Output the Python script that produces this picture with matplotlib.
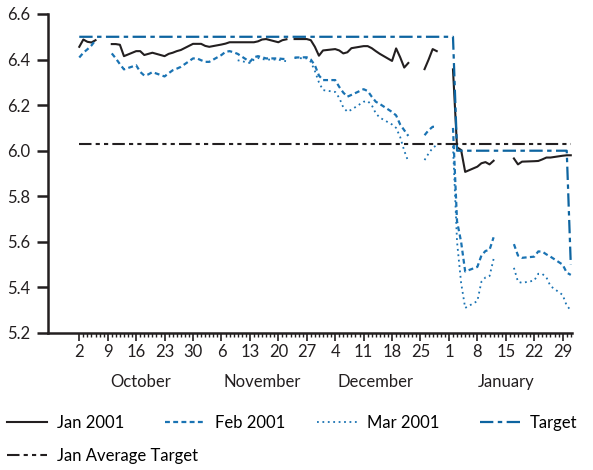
import numpy as np
import pandas as pd
import matplotlib
matplotlib.use('Agg')
import matplotlib.pyplot as plt
import matplotlib.dates as mdates
from matplotlib.lines import Line2D

nan = np.nan

# trading days Oct 2 2000 - Jan 31 2001 (holidays / missing quotes = NaN)
days = pd.bdate_range('2000-10-02', '2001-01-31')

jan_2001 = [
    6.456, 6.488, 6.478, 6.475, 6.485,   # Oct 2-6
    nan, 6.468, 6.468, 6.465, 6.415,     # Oct 9-13
    6.437, 6.437, 6.420, 6.425, 6.430,   # Oct 16-20
    6.415, 6.425, 6.430, 6.437, 6.442,   # Oct 23-27
    6.469, 6.469, 6.469, 6.460, 6.456,   # Oct 30-Nov 3
    6.466, 6.470, 6.476, 6.476, 6.476,   # Nov 6-10
    6.476, 6.476, 6.480, 6.488, 6.490,   # Nov 13-17
    6.476, 6.485, 6.489, nan, 6.490,     # Nov 20-24
    6.490, 6.485, 6.456, 6.417, 6.440,   # Nov 27-Dec 1
    6.446, 6.440, 6.427, 6.432, 6.450,   # Dec 4-8
    6.459, 6.459, 6.450, 6.437, 6.425,   # Dec 11-15
    6.394, 6.449, 6.410, 6.365, 6.385,   # Dec 18-22
    nan, 6.358, 6.400, 6.446, 6.437,     # Dec 25-29
    nan, 6.357, 6.015, 6.003, 5.907,     # Jan 1-5
    5.930, 5.945, 5.950, 5.940, 5.956,   # Jan 8-12
    nan, nan, 5.966, 5.940, 5.952,       # Jan 15-19
    5.954, 5.955, 5.962, 5.970, 5.970,   # Jan 22-26
    5.978, 5.980, 5.980,                 # Jan 29-31
]

feb_2001 = [
    6.409, 6.430, 6.445, 6.462, 6.485,
    nan, 6.427, 6.405, 6.380, 6.357,
    6.375, 6.346, 6.330, 6.335, 6.345,
    6.326, 6.340, 6.353, 6.360, 6.368,
    6.405, 6.405, 6.397, 6.390, 6.390,
    6.420, 6.434, 6.437, 6.432, 6.425,
    6.390, 6.410, 6.415, 6.410, 6.405,
    6.405, 6.403, 6.402, nan, 6.409,
    6.410, 6.400, 6.375, 6.330, 6.310,
    6.310, 6.280, 6.255, 6.237, 6.245,
    6.270, 6.262, 6.237, 6.215, 6.205,
    6.170, 6.155, 6.115, 6.090, 6.065,
    nan, 6.068, 6.090, 6.105, 6.105,
    nan, 6.100, 5.690, 5.600, 5.470,
    5.490, 5.540, 5.560, 5.565, 5.620,
    nan, nan, 5.590, 5.540, 5.530,
    5.535, 5.558, 5.557, 5.545, 5.535,
    5.500, 5.465, 5.455,
]

mar_2001 = [
    nan, nan, nan, nan, nan,
    nan, nan, nan, nan, nan,
    nan, nan, nan, nan, nan,
    nan, nan, nan, nan, nan,
    nan, nan, nan, nan, nan,
    nan, nan, nan, nan, 6.397,
    6.385, 6.400, 6.407, 6.402, 6.400,
    6.400, 6.395, 6.393, nan, 6.407,
    6.405, 6.390, 6.350, 6.300, 6.266,
    6.258, 6.232, 6.190, 6.171, 6.180,
    6.215, 6.218, 6.200, 6.164, 6.145,
    6.115, 6.100, 6.060, 6.000, 5.952,
    nan, 5.959, 5.988, 6.012, 6.025,
    nan, 6.020, 5.600, 5.420, 5.310,
    5.340, 5.425, 5.444, 5.450, 5.525,
    nan, nan, 5.486, 5.425, 5.420,
    5.430, 5.460, 5.459, 5.444, 5.406,
    5.367, 5.320, 5.300,
]

# fed funds target: 6.5 until the Jan 3 cut, 6.0, then 5.5 on Jan 31
target_dates = pd.to_datetime(['2000-10-02', '2001-01-02', '2001-01-03', '2001-01-30', '2001-01-31'])
target_vals = [6.5, 6.5, 6.0, 6.0, 5.5]

avg_dates = pd.to_datetime(['2000-10-02', '2001-01-31'])
avg_vals = [6.03, 6.03]

months = ['October', 'November', 'December', 'January']
month_pos = pd.to_datetime(['2000-10-17', '2000-11-16', '2000-12-14', '2001-01-15'])

BLACK = '#231f20'
BLUE = '#1a73b3'
TBLUE = '#0d64a0'

plt.rcParams['font.family'] = ['Lato', 'DejaVu Sans']
plt.rcParams['font.size'] = 12

fig = plt.figure(figsize=(5.93, 4.70), dpi=100)
ax = fig.add_axes([48/593, 1-333/470, (572-48)/593, (333-14)/470])

ax.plot(days, jan_2001, color=BLACK, lw=1.5, ls='-')
ax.plot(days, feb_2001, color=BLUE, lw=1.6, ls=(0, (2.2, 1.5)))
ax.plot(days, mar_2001, color=BLUE, lw=1.3, ls=(0, (1, 2)))
ax.plot(target_dates, target_vals, color=TBLUE, lw=1.6, ls=(0, (6, 2, 2, 2)))
ax.plot(avg_dates, avg_vals, color=BLACK, lw=1.5, ls=(0, (6, 2, 2, 2, 2, 2)))

d0 = mdates.date2num(pd.Timestamp('2000-10-02'))
ax.set_xlim(d0 - 7.7, d0 + 121.3)
ax.set_ylim(5.2, 6.6)

majors = pd.date_range('2000-10-02', '2001-01-29', freq='7D')
minors = pd.date_range('2000-10-02', '2001-01-31', freq='D')
ax.set_xticks(mdates.date2num(majors))
ax.set_xticklabels([str(d.day) for d in majors])
ax.set_xticks(mdates.date2num(minors), minor=True)
ax.tick_params(axis='x', which='major', direction='out', length=6, width=1.2, pad=2, colors=BLACK)
ax.tick_params(axis='x', which='minor', direction='out', length=3, width=1.0, colors=BLACK)

yt = np.arange(5.2, 6.61, 0.2)
ax.set_yticks(yt)
ax.set_yticklabels([f'{v:.1f}' for v in yt])
ax.tick_params(axis='y', direction='out', length=8, width=1.8, pad=5, colors=BLACK)

for s in ['top', 'right']:
    ax.spines[s].set_visible(False)
for s in ['left', 'bottom']:
    ax.spines[s].set_linewidth(1.8)
    ax.spines[s].set_color(BLACK)

for m, p in zip(months, month_pos):
    ax.text(mdates.date2num(p), -0.155, m, transform=ax.get_xaxis_transform(),
            ha='center', va='center', fontsize=12, color=BLACK)

h_jan = Line2D([], [], color=BLACK, lw=1.5, ls='-')
h_feb = Line2D([], [], color=BLUE, lw=1.6, ls=(0, (2.2, 1.5)))
h_mar = Line2D([], [], color=BLUE, lw=1.3, ls=(0, (1, 2)))
h_tgt = Line2D([], [], color=TBLUE, lw=1.6, ls=(0, (6, 2, 2, 2)))
h_avg = Line2D([], [], color=BLACK, lw=1.5, ls=(0, (6, 2, 2, 2, 2, 2)))

row1 = [(h_jan, 'Jan 2001', 2), (h_feb, 'Feb 2001', 160), (h_mar, 'Mar 2001', 312), (h_tgt, 'Target', 475)]
for h, lab, px in row1:
    fig.legend([h], [lab], loc='center left', bbox_to_anchor=(px/593, 1-423/470),
               frameon=False, handlelength=2.4, handletextpad=0.6, fontsize=12,
               borderaxespad=0, borderpad=0.3)
fig.legend([h_avg], ['Jan Average Target'], loc='center left', bbox_to_anchor=(2/593, 1-456/470),
           frameon=False, handlelength=2.4, handletextpad=0.6, fontsize=12,
           borderaxespad=0, borderpad=0.3)

fig.savefig('out.png', dpi=100)
